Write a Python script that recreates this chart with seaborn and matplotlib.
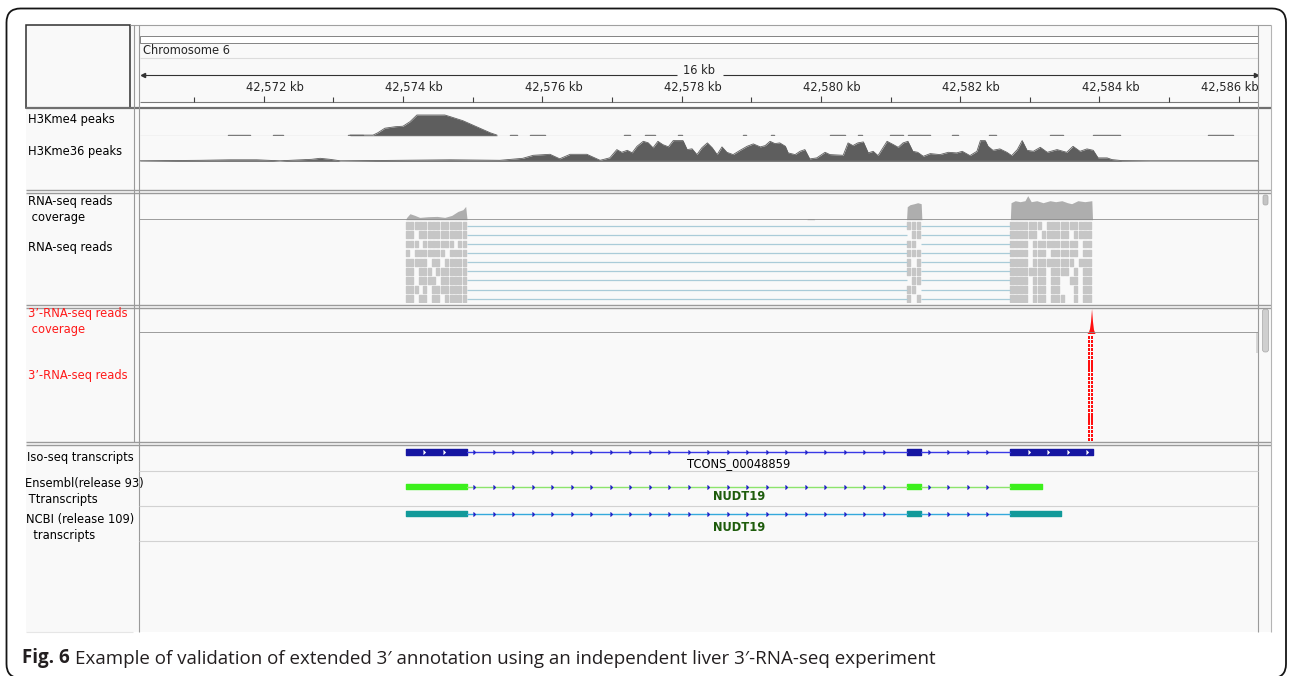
import numpy as np
import pandas as pd
import matplotlib
matplotlib.use("Agg")
import matplotlib.pyplot as plt
from matplotlib.patches import Rectangle, FancyBboxPatch
import seaborn as sns


W, H = 1292, 676
DATA_X0, DATA_X1 = 140, 1258
KB_LEFT, KB_RIGHT = 42570.224, 42586.276

# ruler
major_ticks = [42572, 42574, 42576, 42578, 42580, 42582, 42584, 42586]
major_labels = ["42,572 kb", "42,574 kb", "42,576 kb", "42,578 kb",
                "42,580 kb", "42,582 kb", "42,584 kb", "42,586 kb"]
minor_ticks = [42571, 42573, 42575, 42577, 42579, 42581, 42583, 42585]

# H3Kme4 peaks (kb, signal height)
h3k4_pos = [42573.24, 42573.57, 42573.64, 42573.74, 42573.89, 42574.00, 42574.10,
            42574.20, 42574.60, 42574.68, 42574.86, 42574.99, 42575.11, 42575.25, 42575.35]
h3k4_val = [0.6, 0.6, 3, 7.5, 9, 9.5, 14, 20.7, 20.7, 19, 15, 11, 7.3, 3, 0.6]
h3k4_bits = [(42571.49, 0.31), (42572.13, 0.15), (42573.21, 0.22), (42575.54, 0.10),
             (42575.82, 0.22), (42577.17, 0.09), (42577.48, 0.14), (42577.95, 0.06),
             (42578.88, 0.04), (42579.28, 0.05), (42580.13, 0.22), (42580.53, 0.06),
             (42580.99, 0.19), (42581.25, 0.32), (42581.88, 0.09), (42582.42, 0.10),
             (42583.29, 0.19), (42583.91, 0.39), (42585.56, 0.36)]

# H3Kme36 peaks
h3k36_pos = [42570.22, 42571.09, 42571.52, 42571.90, 42572.23, 42572.69, 42572.81, 42572.95,
             42573.10, 42573.96, 42574.68, 42575.39, 42575.72, 42575.87, 42576.11, 42576.25,
             42576.40, 42576.64, 42576.83, 42576.97, 42577.07, 42577.14, 42577.22, 42577.29,
             42577.36, 42577.45, 42577.52, 42577.59, 42577.66, 42577.73, 42577.81, 42577.88,
             42578.02, 42578.08, 42578.15, 42578.22, 42578.29, 42578.37, 42578.44, 42578.51,
             42578.58, 42578.65, 42578.74, 42578.84, 42578.94, 42579.03, 42579.13, 42579.20,
             42579.27, 42579.34, 42579.41, 42579.49, 42579.53, 42579.63, 42579.70, 42579.77,
             42579.84, 42579.94, 42580.06, 42580.13, 42580.32, 42580.39, 42580.46, 42580.53,
             42580.61, 42580.68, 42580.75, 42580.82, 42580.89, 42580.95, 42581.04, 42581.11,
             42581.18, 42581.25, 42581.32, 42581.39, 42581.47, 42581.57, 42581.71, 42581.83,
             42581.95, 42582.03, 42582.14, 42582.24, 42582.29, 42582.36, 42582.40, 42582.47,
             42582.57, 42582.67, 42582.74, 42582.82, 42582.89, 42582.96, 42583.05, 42583.15,
             42583.25, 42583.39, 42583.53, 42583.62, 42583.72, 42583.82, 42583.91, 42583.98,
             42584.11, 42584.18, 42584.32, 42584.73, 42586.28]
h3k36_val = [0.5, 1, 1.5, 1.5, 0.5, 2, 3, 2,
             0.5, 1, 1.5, 1, 3, 6, 7, 2.5,
             7, 7, 1, 3.5, 11.7, 9, 11, 8.5,
             15, 20, 18.5, 13.5, 20, 16.7, 14.5, 20.7,
             20.7, 11.7, 12.5, 6.7, 13.5, 18.4, 13.5, 6.7,
             14.4, 9, 6.7, 11, 15, 17.4, 14.4, 15.7,
             20, 17.7, 18.4, 15, 8.4, 6.7, 10, 11.7,
             2.4, 3.4, 9, 6.7, 6, 18.4, 15.7, 18.4,
             19.4, 8.4, 10, 5.7, 13.4, 20, 16.7, 14,
             18.4, 20, 10, 9, 5, 7.7, 6.7, 9,
             8.4, 10, 5.7, 10, 20.7, 20.7, 15, 11,
             12.4, 9, 5.7, 11.7, 20.7, 11, 10, 14,
             9, 11.7, 9, 15, 10, 12.4, 11, 3.4,
             3.4, 1.7, 0.7, 0.5, 0.5]

# RNA-seq coverage
rna_cov_pos = [42574.04, 42574.05, 42574.10, 42574.17, 42574.24, 42574.36, 42574.49, 42574.60,
               42574.70, 42574.79, 42574.86, 42574.90, 42574.92,
               42579.80, 42579.81, 42579.90, 42579.91,
               42581.23, 42581.24, 42581.28, 42581.34, 42581.39, 42581.44, 42581.45,
               42582.72, 42582.73, 42582.79, 42582.86, 42582.93, 42582.97, 42583.02, 42583.10,
               42583.19, 42583.29, 42583.37, 42583.46, 42583.54, 42583.60, 42583.69, 42583.79,
               42583.89, 42583.90]
rna_cov_val = [0, 2, 6, 4.3, 2.3, 3, 3.3, 2.3,
               4.3, 8.3, 10, 13.3, 0,
               0, 1, 1, 0,
               0, 13, 15, 16, 17, 16, 0,
               0, 17, 19, 18, 19, 24, 18, 19,
               17, 19, 18, 19, 17, 16, 19, 18,
               19, 0]

# exons (kb)
exon_starts = [42574.04, 42581.24, 42582.72]
iso_ends = [42574.92, 42581.44, 42583.90]
ens_ends = [42574.92, 42581.44, 42583.17]
ncbi_ends = [42574.92, 42581.44, 42583.45]

# RNA-seq read rows, one string per row, one char per read slot
reads_exon1 = ["11111111111111", "11011111111111", "11101111111011",
               "10111111101111", "11111011011111", "11011101111111",
               "11011110111111", "11101011111111", "11011011011111"]
reads_exon2 = ["111", "011", "110", "111", "101", "111", "011", "110", "101"]
reads_exon3 = ["111111101111111111", "111111011111101111", "111101111111111011",
               "111101110111111011", "111101111111110111", "111111110111101011",
               "111101110110011011", "111101110110001011", "111101110111001011"]

# 3'-RNA-seq coverage and reads
tp_cov_pos = [42583.821, 42583.843, 42583.857, 42583.871, 42583.886, 42583.900,
              42583.914, 42583.936]
tp_cov_val = [0, 2, 5, 12, 25, 12, 4, 0]
tp_read_cols = [42583.836, 42583.875]
tp_read_rows = 26

names_black = [("H3Kme4 peaks", 28, 119), ("H3Kme36 peaks", 28, 151),
               ("RNA-seq reads", 28, 201), (" coverage", 28, 217),
               ("RNA-seq reads", 28, 248),
               ("Iso-seq transcripts", 27, 458),
               ("Ensembl(release 93)", 25, 483), (" Ttranscripts", 25, 499),
               ("NCBI (release 109)", 26, 520), ("  transcripts", 26, 536)]
names_red = [("3\u2019-RNA-seq reads", 28, 314), (" coverage", 28, 330),
             ("3\u2019-RNA-seq reads", 28, 375)]

caption_bold = "Fig. 6"
caption_rest = "Example of validation of extended 3\u2032 annotation using an independent liver 3\u2032-RNA-seq experiment"


sns.set_theme(style="white")
plt.rcParams['font.family'] = ['DejaVu Sans']
LBL = 8.3

fig = plt.figure(figsize=(W / 100, H / 100), dpi=100)
fig.patch.set_facecolor("white")

bg = fig.add_axes([0, 0, 1, 1])
bg.set_xlim(0, W)
bg.set_ylim(H, 0)
bg.set_axis_off()


def hline(y, x0, x1, color="#a0a0a0", lw=0.8):
    bg.plot([x0, x1], [y, y], color=color, lw=lw, solid_capstyle="butt")


def vline(x, y0, y1, color="#a0a0a0", lw=0.8):
    bg.plot([x, x], [y0, y1], color=color, lw=lw, solid_capstyle="butt")


def track_axes(y0, y1, ylim):
    ax = fig.add_axes([DATA_X0 / W, 1 - y1 / H, (DATA_X1 - DATA_X0) / W, (y1 - y0) / H])
    ax.set_axis_off()
    ax.set_xlim(KB_LEFT, KB_RIGHT)
    ax.set_ylim(*ylim)
    return ax


# outer rounded frame, drawn in an upright pixel axes
frame = fig.add_axes([0, 0, 1, 1], zorder=5)
frame.set_xlim(0, W)
frame.set_ylim(0, H)
frame.set_axis_off()
frame.add_patch(FancyBboxPatch((6.5, H - 678), 1279.5, 669.5,
                               boxstyle="round,pad=0,rounding_size=14",
                               fill=False, ec="#151515", lw=1.3))

# IGV window background
bg.add_patch(Rectangle((26, 25), 1246, 607, fc="#f9f9f9", ec="none"))

# header
bg.add_patch(Rectangle((26, 25), 104, 83, fill=False, ec="#303030", lw=1.1))
hline(25, 130, 1271)
bg.add_patch(Rectangle((140, 36), 1118, 7, fc="white", ec="#707070", lw=0.6))
hline(58, 140, 1258, color="#dcdcdc")
hline(102, 140, 1258, color="#7a7a7a")
hline(108, 26, 1271, color="#707070", lw=1.6)
bg.add_patch(Rectangle((140, 102), 1118, 6, fc="white", ec="none"))
bg.text(143, 50, "Chromosome 6", fontsize=LBL, va="center", ha="left")

span_text = f"{round(KB_RIGHT - KB_LEFT)} kb"
bg.text(699, 71, span_text, fontsize=LBL, va="center", ha="center")
hline(75, 143, 677, color="#333333", lw=0.8)
hline(75, 723, 1255, color="#333333", lw=0.8)
bg.plot([142.5], [75], marker="<", ms=3, color="#333333")
bg.plot([1255.5], [75], marker=">", ms=3, color="#333333")

# panel separators
for y in [190, 193.3, 304.5, 307.5, 442.3, 444.5]:
    hline(y, 26, 1271, color="#9a9a9a", lw=1.0)
vline(133.6, 25, 442.3, color="#9a9a9a")
vline(139.4, 25, 632, color="#9a9a9a")
vline(1258, 25, 632, color="#9a9a9a")
vline(1271, 25, 632, color="#b4b4b4")
for y in [471, 505.5, 540.5]:
    hline(y, 139.4, 1258, color="#d2d2d2")
hline(632, 26, 133, color="#e6e6e6")

# scrollbars
bg.add_patch(FancyBboxPatch((1263, 195), 5, 10, boxstyle="round,pad=0,rounding_size=2",
                            fc="#c4c4c4", ec="#a8a8a8", lw=0.5))
bg.add_patch(FancyBboxPatch((1262.5, 309), 6, 43, boxstyle="round,pad=0,rounding_size=2.5",
                            fc="#cfcfcf", ec="#a8a8a8", lw=0.5))
bg.add_patch(Rectangle((1256, 333), 2, 20, fc="#d8d8d8", ec="none"))

# names
for txt, x, y in names_black:
    bg.text(x, y, txt, fontsize=LBL, va="center", ha="left", color="black")
for txt, x, y in names_red:
    bg.text(x, y, txt, fontsize=LBL, va="center", ha="left", color="#ff1a1a")

# ruler ticks
ruler = track_axes(58, 108, (108, 58))
ruler.vlines(major_ticks, 95.5, 101.5, color="#404040", lw=0.8)
ruler.vlines(minor_ticks, 97, 101.5, color="#404040", lw=0.8)
for t, lab in zip(major_ticks, major_labels):
    ruler.text(min(t + 0.16, KB_RIGHT - 0.41), 88, lab, fontsize=LBL, ha="center",
               va="center", clip_on=True)

# H3Kme4
ax4 = track_axes(135.7 - 24, 135.7, (0, 24))
ax4.axhline(0, color="#c6c6c6", lw=0.9)
ax4.broken_barh(h3k4_bits, (0, 1.2), color="#707070")
ax4.fill_between(h3k4_pos, 0, h3k4_val, color="#5e5e5e", lw=0)
sns.lineplot(x=h3k4_pos, y=h3k4_val, ax=ax4, color="#5e5e5e", lw=0.6, estimator=None)
ax4.set_xlim(KB_LEFT, KB_RIGHT)
ax4.set_ylim(0, 24)

# H3Kme36
ax36 = track_axes(161.3 - 23, 161.3, (0, 23))
ax36.axhline(0, color="#8a8a8a", lw=1.0)
ax36.fill_between(h3k36_pos, 0, h3k36_val, color="#5e5e5e", lw=0)
sns.lineplot(x=h3k36_pos, y=h3k36_val, ax=ax36, color="#5e5e5e", lw=0.6, estimator=None)
ax36.set_xlim(KB_LEFT, KB_RIGHT)
ax36.set_ylim(0, 23)

# RNA-seq coverage
axc = track_axes(195, 219.7, (0, 24.7))
axc.fill_between(rna_cov_pos, 0, rna_cov_val, color="#aeaeae", lw=0)
axc.axhline(0, color="#8c8c8c", lw=1.2)
axc.set_xlim(KB_LEFT, KB_RIGHT)

# RNA-seq reads
axr = track_axes(221.2, 303.4, (9, 0))
junc = pd.DataFrame({"row": np.arange(len(reads_exon1)) + 0.48})
for i, row in junc.iterrows():
    y = row["row"]
    axr.hlines(y, iso_ends[0], exon_starts[1], color="#a9cbd8", lw=0.9)
    axr.hlines(y, iso_ends[1], exon_starts[2], color="#a9cbd8", lw=0.9)
for rows, start, end in [(reads_exon1, exon_starts[0], iso_ends[0]),
                         (reads_exon2, exon_starts[1], iso_ends[1]),
                         (reads_exon3, exon_starts[2], iso_ends[2])]:
    for r, pattern in enumerate(rows):
        slot = (end - start) / len(pattern)
        segs = [(start + k * slot, slot * 0.7) for k, c in enumerate(pattern) if c == "1"]
        axr.broken_barh(segs, (r + 0.12, 0.74), color="#c6c6c6")

# 3'-RNA-seq coverage
axt = track_axes(307.5, 333.5, (0, 26))
axt.axhline(0, color="#8c8c8c", lw=1.2)
axt.fill_between(tp_cov_pos, 0, tp_cov_val, color="#ff1010", lw=0)
axt.set_xlim(KB_LEFT, KB_RIGHT)

# 3'-RNA-seq reads
axtr = track_axes(335.5, 441.5, (tp_read_rows, 0))
for r in range(tp_read_rows):
    axtr.broken_barh([(c, 0.035) for c in tp_read_cols], (r + 0.08, 0.8),
                     facecolor="#ff1010", edgecolor="none")


# transcripts
def draw_transcript(center, ends, exon_color, intron_color, height, label, label_dy, label_style):
    ax = track_axes(center - 10, center + 10, (10, -10))
    starts = exon_starts[:len(ends)]
    for k in range(len(starts) - 1):
        a, b = ends[k], starts[k + 1]
        sns.lineplot(x=[a, b], y=[0, 0], ax=ax, color=intron_color, lw=1.0, estimator=None)
        marks = np.arange(a + 0.12, b - 0.04, 0.28)
        ax.plot(marks, np.zeros_like(marks), ls="none", marker=5, ms=2.2,
                color="#2222c8", mew=0.8)
    ax.broken_barh([(s, e - s) for s, e in zip(starts, ends)], (-height / 2, height),
                   color=exon_color)
    for s, e in zip(starts, ends):
        if e - s > 0.6 and label_style == "normal":
            marks = np.arange(s + 0.28, e - 0.05, 0.28)
            ax.plot(marks, np.zeros_like(marks), ls="none", marker=5, ms=2.2,
                    color="white", mew=0.6)
    ax.set_xlim(KB_LEFT, KB_RIGHT)
    ax.set_ylim(10, -10)
    mid = (ends[0] + starts[-1]) / 2
    if label_style == "normal":
        ax.text(mid, label_dy, label, fontsize=LBL, ha="center", va="center",
                color="black", clip_on=False)
    else:
        ax.text(mid, label_dy, label, fontsize=LBL, ha="center", va="center",
                color="#1e5c0c", fontweight="bold", clip_on=False)


draw_transcript(452.3, iso_ends, "#1616a2", "#3a3ae6", 6, "TCONS_00048859", 11, "normal")
draw_transcript(486.7, ens_ends, "#3cf01c", "#8ce46c", 5, "NUDT19", 10, "bold")
draw_transcript(513.8, ncbi_ends, "#129a9a", "#35a9dc", 5, "NUDT19", 14, "bold")

# caption
cap_font = ["Open Sans", "DejaVu Sans"]
t1 = bg.text(22.5, 663.3, caption_bold, fontsize=13.5, fontweight="bold", family=cap_font,
             color="#231f20", va="baseline", ha="left")
bg.annotate(caption_rest, xy=(1, 0), xycoords=t1, xytext=(3.5, 0), textcoords="offset points",
            fontsize=13.5, family=cap_font, color="#231f20", va="bottom", ha="left")

fig.savefig("out.png", dpi=100, facecolor="white")
